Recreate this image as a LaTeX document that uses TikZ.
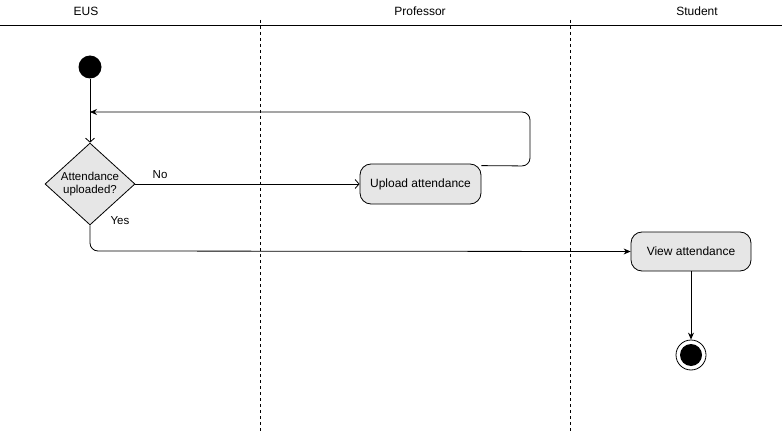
\documentclass[tikz,border=0pt]{standalone}
\usepackage{fontspec}
\setmainfont{Liberation Sans}
\usetikzlibrary{arrows.meta,shapes.geometric}
\definecolor{boxfill}{HTML}{E6E6E6}
\tikzset{
  lane/.style={font=\fontsize{12}{14}\selectfont},
  divider/.style={dashed, line width=0.6pt},
  action/.style={draw, line width=0.8pt, fill=boxfill, rounded corners=11pt, minimum width=121pt, minimum height=40pt, font=\fontsize{12}{14}\selectfont, inner sep=0pt},
  decision/.style={draw, line width=0.8pt, fill=boxfill, diamond, minimum width=90pt, minimum height=74pt, inner sep=0pt, font=\fontsize{11.5}{13}\selectfont, align=center},
  flow/.style={line width=0.8pt, -{Stealth[length=7pt,width=6pt]}},
  openflow/.style={line width=0.8pt, -{Straight Barb[length=4pt,width=9pt]}},
  lbl/.style={font=\fontsize{11.5}{13}\selectfont},
}
\begin{document}
\begin{tikzpicture}[x=1pt,y=-1pt]
\useasboundingbox (0,0) rectangle (782,433);
% header
\node[lane] (hEUS) at (86,11) {EUS};
\node[lane] (hProf) at (420,11) {Professor};
\node[lane] (hStud) at (697,11) {Student};
\draw[line width=1pt] (0,26) -- (782,26);
\draw[divider] (260,20) -- (260,433);
\draw[divider] (570,20) -- (570,433);
% nodes
\node[circle, fill=black, minimum size=23pt, inner sep=0pt] (start) at (90,67) {};
\node[decision] (dec) at (90,184) {Attendance\\uploaded?};
\node[action] (upload) at (420.5,184) {Upload attendance};
\node[action, minimum width=120pt, minimum height=39pt] (view) at (691,251.5) {View attendance};
\node[circle, draw, line width=0.8pt, minimum size=30pt, inner sep=0pt] (endo) at (691,355) {};
\node[circle, fill=black, minimum size=22pt, inner sep=0pt] (endi) at (691,355) {};
\coordinate (loopin) at (90,112);
% connectors
\draw[openflow] (start) -- (dec.north);
\draw[openflow] (dec.east) -- node[lbl, pos=0.11, above=2pt] {No} (upload.west);
\draw[flow, rounded corners=8pt] ([yshift=-2pt]upload.north east) -- (530,166) -- (530,112) -- (loopin);
\draw[flow, rounded corners=8pt] (dec.south) -- (90,251) -- (view.west);
\node[lbl] (yes) at (120,221) {Yes};
\draw[flow] (view.south) -- (endo.north);
\end{tikzpicture}
\end{document}
